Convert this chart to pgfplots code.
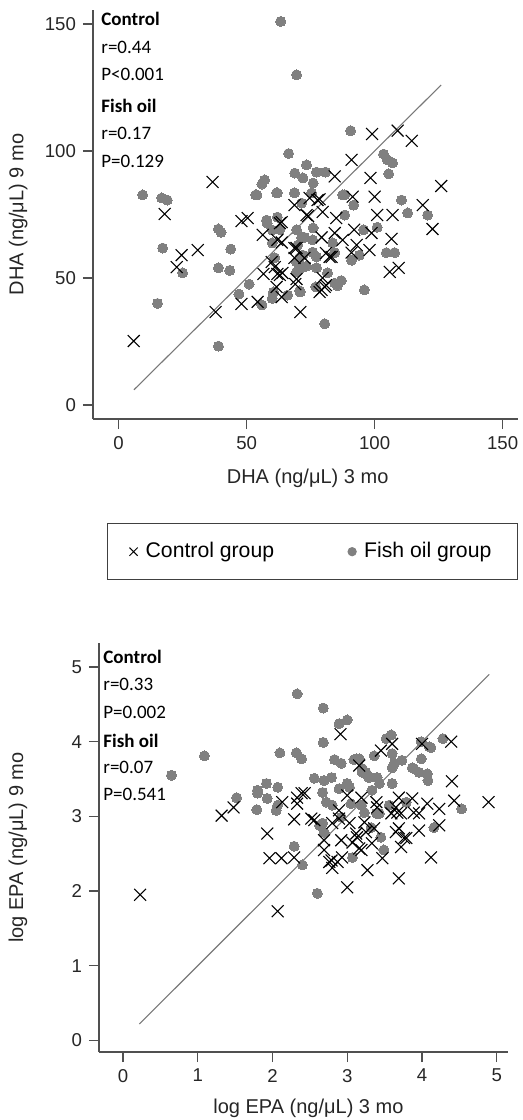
\documentclass[border=0pt]{standalone}
\usepackage{pgfplots}
\pgfplotsset{compat=1.18}
\usepackage{fontspec}
\setmainfont{Liberation Sans}
\newfontfamily\calfont{Carlito}
\definecolor{dotgray}{RGB}{128,128,128}
\definecolor{axgray}{RGB}{80,80,80}
\definecolor{fitgray}{RGB}{120,120,120}

\pgfplotsset{
  sp/.style={
    scale only axis,
    axis x line=bottom, axis y line=left,
    axis line style={-, axgray, line width=0.7pt},
    tick align=outside, major tick length=5pt,
    tick style={axgray, line width=0.7pt},
    minor tick num=0,
    /pgf/number format/assume math mode=true,
    ticklabel style={font=\fontsize{9.3}{11}\selectfont, text=black!85},
    label style={font=\fontsize{10}{12}\selectfont, text=black!85},
    clip=false,
  },
  ctrl/.style={only marks, mark=x, mark size=4.2pt, black, mark options={line width=0.55pt}},
  fish/.style={only marks, mark=*, mark size=2.5pt, dotgray, mark options={draw=dotgray, fill=dotgray, line width=0pt}},
}

\begin{document}
\begin{tikzpicture}
\path[use as bounding box] (0,0) rectangle (261.5pt,-560pt);

% ---------------- DHA ----------------
\begin{axis}[sp,
  at={(46.5pt,-209.5pt)}, anchor=south west,
  width=212.5pt, height=204.5pt,
  xmin=-10, xmax=156, ymin=-5.5, ymax=155.5,
  xtick={0,50,100,150}, ytick={0,50,100,150},
  xlabel={DHA (ng/μL) 3 mo}, ylabel={DHA (ng/μL) 9 mo},
  xlabel style={at={(axis description cs:0.505,-0.144)}, anchor=center},
  ylabel style={at={(axis description cs:-0.176,0.5)}, anchor=center},
  legend columns=2,
  legend style={at={(axis description cs:1,-0.254)}, anchor=north east,
    draw=black!75, line width=0.6pt, inner ysep=7.5pt, inner xsep=11pt,
    font=\fontsize{10.6}{12}\selectfont,
    /tikz/every odd column/.append style={column sep=2pt},
    /tikz/every even column/.append style={column sep=35pt}},
  legend cell align=left,
]
\addlegendimage{only marks, mark=x, mark size=2.9pt, black, mark options={line width=0.5pt}}
\addlegendentry{Control group}
\addlegendimage{only marks, mark=*, mark size=2pt, dotgray, mark options={draw=dotgray, fill=dotgray}}
\addlegendentry{Fish oil group}

\addplot[fitgray, line width=0.55pt, forget plot] coordinates {(6,6) (126,126)};

\addplot[fish, forget plot] coordinates {
(63.3,151) (69.5,130) (9.4,82.7) (16.8,81.5) (19,80.7) (54,82.7) (57,88.6) (56,87)
(62,83.5) (66.4,99) (68.8,91.3) (90.6,108) (73.4,94.5) (72,89.4) (77.3,91.7) (80.8,91.7)
(76,87.4) (103.5,98.8) (105,96.5) (107,95.3) (105.5,91) (68.7,83.5) (87.5,82.7) (110.5,80.7)
(39,69.3) (40,68) (17.2,61.8) (43.8,61.4) (39,54) (43.4,53) (25,52) (51,47.6)
(47,43.7) (15.2,40) (39,23.2) (56,39.4) (60,42) (58,71.6) (60,68.9) (63,69)
(62,74) (66,43.3) (61,58) (112.9,75.6) (120.7,74.8) (101,70) (95.7,69) (104.6,60)
(107.8,60) (94,59) (91,57) (96,45.3) (80.5,32) (87,49) (85.5,47) (70.7,45)
(77.3,54) (88.3,74.8) (91.8,78.7) (88.3,82.7) (76,69.7) (72.6,66) (83.6,63.8) (84.4,60)
(70.7,58) (75.4,83.5) (71.5,79.5) (53.5,82.7) (61.7,83.5) (60.5,44.5) (71,44.5) (57.8,72.8)
(69.5,69) (71.5,66) (70,63) (72,59) (69.5,56.3) (69.5,52.4) (72,54.3) (77.3,58.3)
(75.8,65) (81.6,52) (84.4,48) (60,63.8) (77,46.5) (73.4,54.7) (75.8,60.2)
};

\addplot[ctrl, forget plot] coordinates {
(36.7,87.8) (99,106.7) (109,108) (114.5,104) (91,96.5) (84.4,90) (98.4,89.4) (126,86.2)
(100,82) (91.4,82) (74.6,81.5) (78.5,81) (18,75.2) (24.6,59) (22.7,54.3) (30.9,61)
(48,72.4) (50.4,73.6) (56.3,67) (37.9,36.6) (48,39.8) (54.3,40.6) (5.9,25.2) (56.6,51.6)
(63,51.2) (61.7,46.5) (63.7,42.5) (62,65) (63,71.6) (118.8,78.7) (122.6,69.3) (101,74.8)
(107,74.8) (85,73.6) (79.7,76) (92,69) (98.8,67.7) (106.6,65.4) (84.4,67.7) (93,63)
(98,61) (91,60) (105.9,52.4) (109.4,54) (79.7,50) (79.3,45.3) (81,47.2) (71,36.6)
(68.7,57.9) (69.5,61.8) (64,52) (68.7,78.7) (73.4,74.8) (81,59.8) (82.4,58.3) (79.3,66)
(63.7,72) (77.7,80.7) (74,74.4) (68.7,61.8) (72.6,57.9) (87.5,65) (83.2,58.3) (62,51.6)
(69.5,49.6) (69,47.6) (78.5,44.5) (80.5,46.5) (59.8,56.3) (61,54.3) (63.7,64)
};
\end{axis}

\node[anchor=base west, font=\calfont\fontsize{9.5}{11}\selectfont\bfseries, inner sep=0pt] at (50.5pt,-12.5pt) {Control};
\node[anchor=base west, font=\calfont\fontsize{9.5}{11}\selectfont, inner sep=0pt] at (50.5pt,-26.5pt) {r=0.44};
\node[anchor=base west, font=\calfont\fontsize{9.5}{11}\selectfont, inner sep=0pt] at (50.5pt,-40pt) {P<0.001};
\node[anchor=base west, font=\calfont\fontsize{9.5}{11}\selectfont\bfseries, inner sep=0pt] at (50.5pt,-56pt) {Fish oil};
\node[anchor=base west, font=\calfont\fontsize{9.5}{11}\selectfont, inner sep=0pt] at (50.5pt,-69.5pt) {r=0.17};
\node[anchor=base west, font=\calfont\fontsize{9.5}{11}\selectfont, inner sep=0pt] at (50.5pt,-83.5pt) {P=0.129};

% ---------------- EPA ----------------
\begin{axis}[sp,
  at={(49.5pt,-526pt)}, anchor=south west,
  width=204.5pt, height=204.5pt,
  xmin=-0.32, xmax=5.15, ymin=-0.154, ymax=5.32,
  xtick={0,1,2,3,4,5}, ytick={0,1,2,3,4,5},
  xlabel={log EPA (ng/μL) 3 mo}, ylabel={log EPA (ng/μL) 9 mo},
  xlabel style={at={(axis description cs:0.512,-0.137)}, anchor=center},
  ylabel style={at={(axis description cs:-0.198,0.5)}, anchor=center},
]
\addplot[fitgray, line width=0.55pt] coordinates {(0.22,0.22) (4.9,4.9)};

\addplot[fish] coordinates {
(2.33,4.64) (1.09,3.81) (0.65,3.55) (2.1,3.85) (2.32,3.85) (2.39,3.77) (1.92,3.44) (2.07,3.39)
(1.8,3.35) (2.68,4.45) (2.89,4.24) (3.0,4.29) (2.68,3.99) (2.83,3.76) (2.92,3.71) (3.09,3.76)
(3.16,3.77) (3.36,3.81) (3.52,4.04) (3.59,4.09) (3.6,3.84) (3.63,3.71) (3.73,3.75) (3.6,3.65)
(3.99,4.0) (4.1,3.93) (4.28,4.04) (3.99,3.77) (3.87,3.65) (3.96,3.59) (4.07,3.57) (4.08,3.48)
(2.56,3.51) (2.69,3.48) (2.79,3.52) (2.89,3.37) (3.0,3.44) (3.25,3.59) (3.29,3.52) (3.4,3.52)
(3.6,3.44) (3.43,3.44) (3.2,3.59) (3.13,3.77) (1.52,3.25) (1.8,3.31) (1.93,3.24) (1.79,3.09)
(2.07,3.15) (2.05,3.08) (2.29,2.6) (2.4,2.35) (2.67,3.32) (2.72,3.19) (2.67,2.91) (2.69,2.79)
(2.8,3.15) (3.05,3.17) (3.2,3.64) (3.27,3.55) (3.19,3.15) (3.33,3.35) (3.23,3.05) (3.39,3.04)
(3.32,2.85) (3.45,2.72) (3.49,2.55) (3.07,2.45) (3.56,3.15) (3.79,3.19) (3.89,3.64) (4.16,2.85)
(4.12,3.92) (4.53,3.1) (2.6,1.97) (2.63,2.88) (2.92,2.99) (3.43,3.04) (3.03,3.39)
};

\addplot[ctrl] coordinates {
(2.91,4.1) (3.45,3.88) (3.6,3.97) (4.0,3.97) (4.39,4.0) (4.4,3.47) (3.16,3.68) (1.32,3.01)
(1.48,3.12) (1.93,2.77) (1.96,2.44) (2.12,2.44) (2.29,2.45) (2.29,2.96) (2.13,3.19) (2.33,3.25)
(2.43,3.31) (2.56,2.95) (2.69,2.55) (2.8,2.91) (2.89,2.97) (2.79,2.41) (2.87,2.39) (2.93,2.45)
(3.03,2.91) (2.92,2.68) (3.0,2.05) (3.27,2.28) (3.16,2.57) (3.07,2.65) (3.47,2.44) (3.69,2.17)
(3.72,2.59) (3.79,2.71) (3.72,3.04) (3.65,3.12) (3.87,3.24) (3.96,3.04) (4.07,3.17) (4.12,2.45)
(3.39,3.19) (3.59,3.04) (3.25,2.79) (3.19,3.25) (3.13,2.72) (2.76,2.39) (0.23,1.95) (2.07,1.73)
(4.89,3.19) (4.43,3.21) (4.23,3.1) (4.23,2.88) (3.96,2.81) (3.67,3.05) (3.69,3.25) (3.33,2.64)
(3.36,2.84) (3.23,2.92) (3.65,2.79) (3.69,2.84) (2.39,3.31) (2.33,3.17) (3.4,3.12) (3.89,3.05)
(3.0,3.28) (2.89,3.08) (2.69,2.68) (2.52,2.97) (3.76,2.71) (2.8,2.31) (3.12,2.77) (3.19,2.55)
};
\end{axis}

\node[anchor=base west, font=\calfont\fontsize{9.5}{11}\selectfont\bfseries, inner sep=0pt] at (51.5pt,-331.5pt) {Control};
\node[anchor=base west, font=\calfont\fontsize{9.5}{11}\selectfont, inner sep=0pt] at (51.5pt,-345pt) {r=0.33};
\node[anchor=base west, font=\calfont\fontsize{9.5}{11}\selectfont, inner sep=0pt] at (51.5pt,-359pt) {P=0.002};
\node[anchor=base west, font=\calfont\fontsize{9.5}{11}\selectfont\bfseries, inner sep=0pt] at (51.5pt,-373.5pt) {Fish oil};
\node[anchor=base west, font=\calfont\fontsize{9.5}{11}\selectfont, inner sep=0pt] at (51.5pt,-386.5pt) {r=0.07};
\node[anchor=base west, font=\calfont\fontsize{9.5}{11}\selectfont, inner sep=0pt] at (51.5pt,-400pt) {P=0.541};
\end{tikzpicture}
\end{document}
